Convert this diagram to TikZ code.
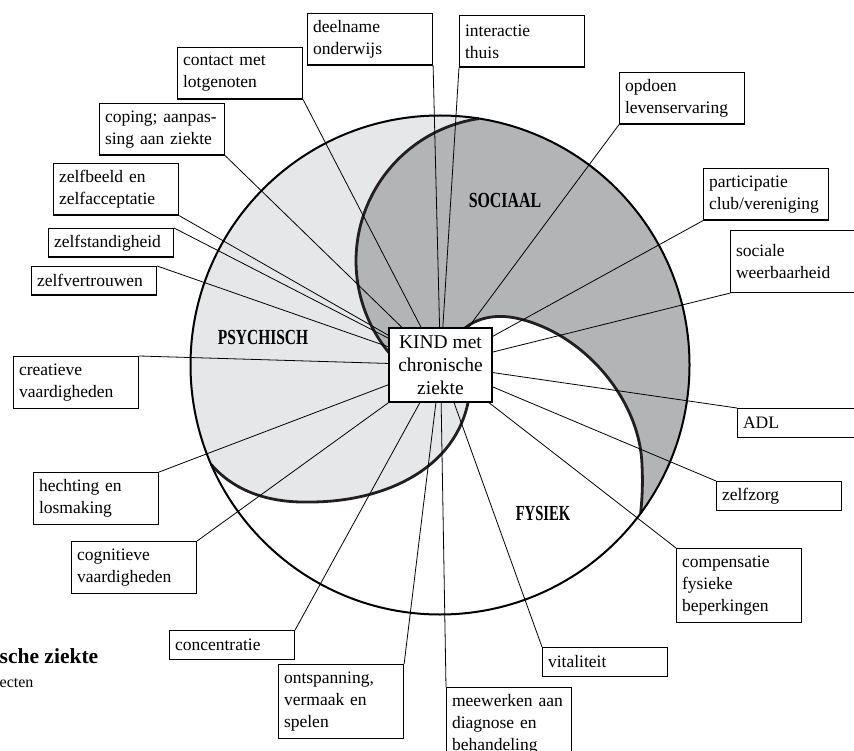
\documentclass[tikz,border=0pt]{standalone}
\usepackage{fontspec}
\setmainfont{Liberation Serif}
\usepackage{graphicx}
\definecolor{psy}{RGB}{230,231,232}
\definecolor{soc}{RGB}{179,180,182}
\definecolor{curvecol}{RGB}{35,31,32}
\pgfdeclarelayer{back}
\pgfdeclarelayer{links}
\pgfsetlayers{back,links,main}
\begin{document}
\begin{tikzpicture}[x=1pt,y=-1pt,
  lbl/.style={draw, line width=1.1pt, fill=white, anchor=north west, inner xsep=5.5pt, inner ysep=0pt,
    text width=114pt, align=left, font={\fontsize{17.5}{22}\selectfont\hyphenpenalty=10000}},
  one/.style={lbl, minimum height=28.5pt},
  two/.style={lbl, minimum height=51.5pt},
  three/.style={lbl, minimum height=74pt},
  link/.style={line width=0.8pt},
  rim/.style={line width=2pt, draw=black},
  edgecurve/.style={line width=2.8pt, draw=curvecol},
  area/.style={inner sep=0pt, font={\fontsize{21.5}{24}\selectfont\bfseries}}]
\useasboundingbox (0,0) rectangle (854,751);

% regions
\begin{pgfonlayer}{back}
\fill[psy] (479,118.6) arc[start angle=-81, end angle=-203.5, radius=249.5]
  -- (211.2,464.5) .. controls (235,492) and (270,503) .. (310,502)
  .. controls (385,502) and (462,468) .. (470,390)
  -- (440,365) -- (407.4,371.3) arc[start angle=130, end angle=261.6, radius=144] -- cycle;
\fill[soc] (479,118.6) arc[start angle=261.6, end angle=130, radius=144] -- (440,365)
  -- (465,328) .. controls (480,316) and (500,314) .. (520,319)
  .. controls (585,335) and (640,400) .. (642,465)
  .. controls (643,485) and (642,500) .. (640.6,513.4)
  arc[start angle=36.5, end angle=-81, radius=249.5] -- cycle;
\draw[edgecurve] (479,118.6) arc[start angle=261.6, end angle=128, radius=144];
\draw[edgecurve] (211.2,464.5) .. controls (235,492) and (270,503) .. (310,502)
  .. controls (385,502) and (462,468) .. (470,390);
\draw[edgecurve] (465,328) .. controls (480,316) and (500,314) .. (520,319)
  .. controls (585,335) and (640,400) .. (642,465)
  .. controls (643,485) and (642,500) .. (640.6,513.4);
\draw[rim] (440,365) circle[radius=249.5];
\end{pgfonlayer}

% centre
\node[draw, line width=1.1pt, fill=white, align=center, minimum width=103pt, minimum height=74pt,
  inner sep=0pt, font={\fontsize{19.5}{23}\selectfont}] (kind) at (440.5,365) {KIND met\\chronische\\ziekte};

% region labels
\node[area] (psych) at (263,337) {\scalebox{0.72}[1]{PSYCHISCH}};
\node[area] (sociaal) at (505,200) {\scalebox{0.74}[1]{SOCIAAL}};
\node[area] (fysiek) at (543,513) {\scalebox{0.68}[1]{FYSIEK}};

% boxes
\node[two] (deel) at (307,13) {deelname\\onderwijs};
\node[two] (inter) at (459,15) {interactie\\thuis};
\node[two] (contact) at (177,47) {contact met\\lotgenoten};
\node[two] (coping) at (99,103) {coping; aanpas-\\sing aan ziekte};
\node[two] (zbeeld) at (53,163) {zelfbeeld en\\zelfacceptatie};
\node[one] (zstand) at (48,228) {zelfstandigheid};
\node[one] (zvert) at (31,266) {zelfvertrouwen};
\node[two] (creat) at (13,356) {creatieve\\vaardigheden};
\node[two] (hecht) at (33,472) {hechting en\\losmaking};
\node[two] (cogn) at (71,541) {cognitieve\\vaardigheden};
\node[one] (conc) at (169,630) {concentratie};
\node[three] (ontsp) at (278,664) {ontspanning,\\vermaak en\\spelen};
\node[three] (meew) at (446,687) {meewerken aan\\diagnose en\\behandeling};
\node[one] (vital) at (542,647) {vitaliteit};
\node[three] (comp) at (676,548) {compensatie\\fysieke\\beperkingen};
\node[one] (zzorg) at (716,481) {zelfzorg};
\node[one] (adl) at (737,408) {ADL};
\node[lbl, minimum height=62pt] (weer) at (730,230) {sociale\\weerbaarheid};
\node[two] (part) at (703,168) {participatie\\club/vereniging};
\node[two] (opdoen) at (619,72) {opdoen\\levenservaring};

% partial title
\node[anchor=base west, inner sep=0pt, font={\fontsize{21.5}{24}\selectfont\bfseries}] (title) at (-0.5,663) {sche ziekte};
\node[anchor=base west, inner sep=0pt, font={\fontsize{16}{19}\selectfont}] (subtitle) at (-0.5,687) {ecten};

% connectors
\begin{pgfonlayer}{links}
\draw[link] (deel.south east) -- (kind);
\draw[link] (inter.south west) -- (kind);
\draw[link] (contact.south east) -- (kind);
\draw[link] (coping.south east) -- (kind);
\draw[link] (zbeeld.south east) -- (kind);
\draw[link] (zstand.north east) -- (kind);
\draw[link] (zvert.north east) -- (kind);
\draw[link] (creat.north east) -- (kind);
\draw[link] (hecht.north east) -- (kind);
\draw[link] (cogn.north east) -- (kind);
\draw[link] (conc.north east) -- (kind);
\draw[link] (ontsp.north east) -- (kind);
\draw[link] (meew.north west) -- (kind);
\draw[link] (vital.north west) -- (kind);
\draw[link] (comp.north west) -- (kind);
\draw[link] (zzorg.north west) -- (kind);
\draw[link] (adl.north west) -- (kind);
\draw[link] (weer.south west) -- (kind);
\draw[link] (part.south west) -- (kind);
\draw[link] (opdoen.south west) -- (kind);
\end{pgfonlayer}
\end{tikzpicture}
\end{document}
